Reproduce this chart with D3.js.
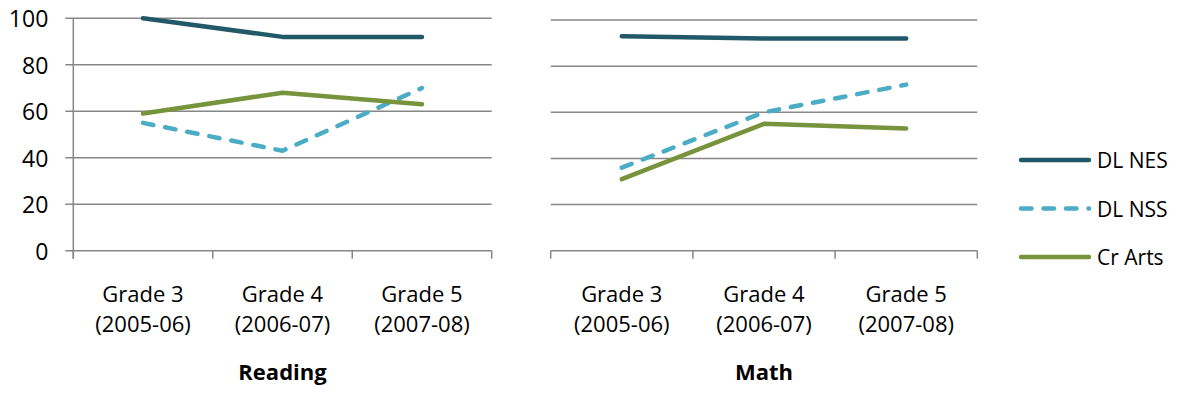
<!DOCTYPE html>
<html>
<head>
<meta charset="utf-8">
<script src="https://cdn.jsdelivr.net/npm/d3@7"></script>
<style>
  html, body { margin: 0; padding: 0; background: #fff; }
  svg { display: block; font-family: "Open Sans", sans-serif; }
</style>
</head>
<body>
<svg id="chart" width="1177" height="394"></svg>
<script>
// Categories and labels
const grades = ["Grade 3", "Grade 4", "Grade 5"];
const years = ["(2005-06)", "(2006-07)", "(2007-08)"];
const subjects = ["Reading", "Math"];
const seriesNames = ["DL NES", "DL NSS", "Cr Arts"];
const yTicks = [0, 20, 40, 60, 80, 100];

// Series values, per subject
const readingNES = [100, 92, 92];
const readingNSS = [55, 43, 70];
const readingArts = [59, 68, 63];
const mathNES = [93, 92, 92];
const mathNSS = [36, 60, 72];
const mathArts = [31, 55, 53];

const seriesStyles = [
  { color: "#215968", dash: null },
  { color: "#4bacc6", dash: "10.5,12" },
  { color: "#77933c", dash: null }
];

const panels = [
  { name: subjects[0], data: [readingNES, readingNSS, readingArts], x0: 73.3, x1: 491.7, top: 18.3, bottom: 250.7, yAxis: true },
  { name: subjects[1], data: [mathNES, mathNSS, mathArts], x0: 550.7, x1: 977.3, top: 20, bottom: 250.7, yAxis: false }
];

const svg = d3.select("#chart");
const gridColor = "#878787";
const fontSize = 22;

panels.forEach(p => {
  const x = d3.scaleBand().domain(grades).range([p.x0, p.x1]).padding(0);
  const y = d3.scaleLinear().domain([0, 100]).range([p.bottom, p.top]);
  const cx = g => x(g) + x.bandwidth() / 2;
  const g = svg.append("g");

  // horizontal gridlines (the zero line doubles as the category axis)
  g.selectAll("line.grid").data(yTicks).join("line")
    .attr("x1", p.yAxis ? p.x0 - 8 : p.x0).attr("x2", p.x1)
    .attr("y1", d => y(d)).attr("y2", d => y(d))
    .attr("stroke", gridColor).attr("stroke-width", 1.5);

  // value axis
  if (p.yAxis) {
    g.append("line")
      .attr("x1", p.x0).attr("x2", p.x0)
      .attr("y1", y(100)).attr("y2", y(0) + 8)
      .attr("stroke", gridColor).attr("stroke-width", 1.5);
    g.selectAll("text.ylab").data(yTicks).join("text")
      .attr("x", p.x0 - 25).attr("y", d => y(d))
      .attr("text-anchor", "end").attr("dominant-baseline", "central")
      .attr("font-size", 23).attr("fill", "#000")
      .text(d => d);
  }

  // category tick marks between groups
  const tickXs = grades.map(d => x(d)).concat([p.x1]);
  g.selectAll("line.xtick").data(tickXs).join("line")
    .attr("x1", d => d).attr("x2", d => d)
    .attr("y1", y(0)).attr("y2", y(0) + 8)
    .attr("stroke", gridColor).attr("stroke-width", 1.5);

  // category labels, two lines each
  g.selectAll("text.grade").data(grades).join("text")
    .attr("x", d => cx(d)).attr("y", 302)
    .attr("text-anchor", "middle").attr("font-size", fontSize).attr("fill", "#000")
    .text(d => d);
  g.selectAll("text.year").data(grades).join("text")
    .attr("x", d => cx(d)).attr("y", 332)
    .attr("text-anchor", "middle").attr("font-size", fontSize).attr("fill", "#000")
    .text((d, i) => years[i]);

  // panel title
  g.append("text")
    .attr("x", (p.x0 + p.x1) / 2).attr("y", 380)
    .attr("text-anchor", "middle").attr("font-size", 22).attr("font-weight", "bold")
    .attr("fill", "#000").text(p.name);

  // series lines
  const line = d3.line().x((d, i) => cx(grades[i])).y(d => y(d));
  p.data.forEach((vals, si) => {
    g.append("path")
      .attr("d", line(vals))
      .attr("fill", "none")
      .attr("stroke", seriesStyles[si].color)
      .attr("stroke-width", 4.5)
      .attr("stroke-linecap", "round")
      .attr("stroke-linejoin", "round")
      .attr("stroke-dasharray", seriesStyles[si].dash);
  });
});

// legend
const legendY = d3.scalePoint().domain(seriesNames).range([160, 257]);
const leg = svg.append("g");
seriesNames.forEach((name, i) => {
  leg.append("line")
    .attr("x1", 1021).attr("x2", 1089)
    .attr("y1", legendY(name)).attr("y2", legendY(name))
    .attr("stroke", seriesStyles[i].color).attr("stroke-width", 4.5)
    .attr("stroke-linecap", "round")
    .attr("stroke-dasharray", seriesStyles[i].dash);
  leg.append("text")
    .attr("x", 1097).attr("y", legendY(name))
    .attr("dominant-baseline", "central")
    .attr("font-size", 21).attr("fill", "#000")
    .text(name);
});
</script>
</body>
</html>
